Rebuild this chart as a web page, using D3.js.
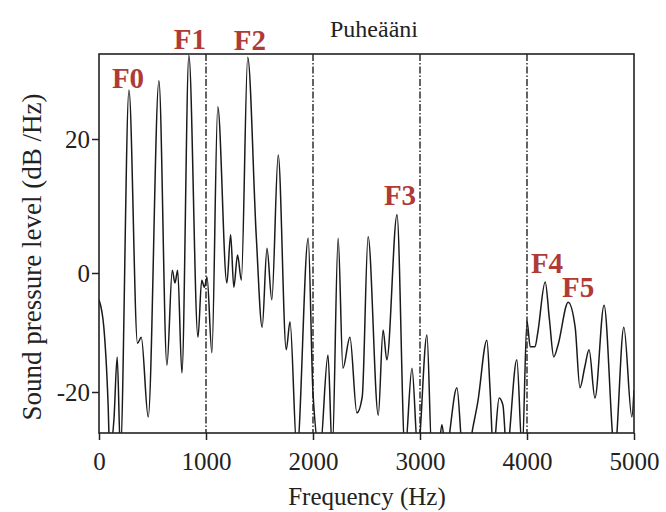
<!DOCTYPE html>
<html lang="fi">
<head>
    <meta charset="UTF-8">
    <title>Puheääni</title>
    <script src="https://d3js.org/d3.v7.min.js"></script>
    <style>
        body { margin: 0; background: #fff; }
        text { font-family: "Liberation Serif", "DejaVu Serif", serif; }
        .tick text { font-size: 25px; fill: #222; }
        .tick line { stroke: #222; stroke-width: 1.5px; }
        .formant { fill: #b03a36; font-weight: bold; font-size: 29px; }
    </style>
</head>
<body>
<script>
// spectrum: frequency (Hz) and level (dB/Hz)
const freqs = [0, 45, 85, 100, 140, 170, 200, 280, 360, 395, 460, 560, 635, 685, 710, 735, 775,
    840, 925, 960, 985, 1010, 1055, 1110, 1195, 1230, 1260, 1295, 1330, 1390, 1470, 1525, 1570,
    1615, 1675, 1750, 1785, 1850, 1955, 2000, 2065, 2140, 2180, 2235, 2280, 2345, 2410, 2460,
    2515, 2610, 2655, 2690, 2785, 2860, 2925, 2980, 3065, 3110, 3170, 3205, 3240, 3345, 3400,
    3450, 3495, 3540, 3625, 3655, 3685, 3740, 3775, 3810, 3905, 3955, 4000, 4030, 4075, 4100,
    4170, 4210, 4250, 4290, 4385, 4450, 4495, 4540, 4580, 4635, 4720, 4820, 4905, 4980, 5000];
const levels = [-4.5, -9.1, -22, -30, -24.5, -14.1, -30, 27.3, -11.8, -10.8, -24.2, 28.7, -15.5, 0.4, -1.7, 0.4, -16.8,
    32.5, -10.8, -1.2, -2.4, -0.7, -13.4, 24.8, -1.7, 5.7, -2.4, 2.7, -1.2, 32.2, 5.4, -9.1, 3.7,
    -4.5, 17.6, -12.9, -8.2, -30, 5.2, -20.2, -30, -13.8, -30, 5.2, -16, -10.8, -23.5, -20.8,
    5.4, -23.9, -9.6, -14.6, 8.7, -30, -16, -30, -10.4, -30, -30, -25.5, -30, -19.3, -30,
    -30, -25.9, -21.7, -11.3, -19.7, -30, -21, -22.2, -30, -14.6, -30, -8.1, -12.4, -12.4, -10.1,
    -1.5, -7.9, -14.1, -12.1, -4.9, -9.1, -19.3, -15.8, -12.9, -21, -5.4, -30, -9.1, -24.2, -19.7];

const xTicks = [0, 1000, 2000, 3000, 4000, 5000];
const yTicks = [-20, 0, 20];
const guides = [1000, 2000, 3000, 4000];

const formantNames = ["F0", "F1", "F2", "F3", "F4", "F5"];
const formantFreqs = [271, 850, 1411, 2813, 4187, 4477];
const formantLevels = [27.6, 33.4, 33.3, 10.1, 0, -4.0];

const width = 666, height = 512;
const m = { left: 99, right: 634, top: 54, bottom: 433 };

const svg = d3.select("body").append("svg")
    .attr("width", width)
    .attr("height", height);

const x = d3.scaleLinear().domain([0, 5000]).range([m.left, m.right]);
const y = d3.scaleLinear().domain([-20, 0, 20]).range([392, 273, 139]);

svg.append("clipPath").attr("id", "plot")
    .append("rect")
    .attr("x", m.left).attr("y", m.top)
    .attr("width", m.right - m.left).attr("height", m.bottom - m.top);

// dash-dot guide lines
svg.append("g")
    .selectAll("line")
    .data(guides)
    .enter().append("line")
    .attr("x1", d => x(d)).attr("x2", d => x(d))
    .attr("y1", m.top).attr("y2", m.bottom)
    .attr("stroke", "#111")
    .attr("stroke-width", 1.3)
    .attr("stroke-dasharray", "7,2,1.5,2");

const points = freqs.map((f, i) => [f, levels[i]]);
const line = d3.line()
    .x(d => x(d[0]))
    .y(d => y(d[1]))
    .curve(d3.curveMonotoneX);

svg.append("path")
    .datum(points)
    .attr("clip-path", "url(#plot)")
    .attr("d", line)
    .attr("fill", "none")
    .attr("stroke", "#1a1a1a")
    .attr("stroke-width", 1.5);

// frame
svg.append("rect")
    .attr("x", m.left).attr("y", m.top)
    .attr("width", m.right - m.left).attr("height", m.bottom - m.top)
    .attr("fill", "none")
    .attr("stroke", "#222")
    .attr("stroke-width", 1.6);

const xAxis = svg.append("g")
    .attr("transform", `translate(0,${m.bottom})`)
    .call(d3.axisBottom(x).tickValues(xTicks).tickSize(7).tickPadding(12).tickFormat(d => String(d)));
xAxis.select(".domain").remove();

const yAxis = svg.append("g")
    .attr("transform", `translate(${m.left},0)`)
    .call(d3.axisLeft(y).tickValues(yTicks).tickSize(7).tickPadding(2).tickFormat(d => String(d)));
yAxis.select(".domain").remove();

svg.append("text")
    .attr("x", 374).attr("y", 37)
    .attr("text-anchor", "middle")
    .attr("font-size", 24)
    .attr("fill", "#222")
    .text("Puheääni");

svg.append("text")
    .attr("x", 367).attr("y", 505)
    .attr("text-anchor", "middle")
    .attr("font-size", 25)
    .attr("fill", "#222")
    .text("Frequency (Hz)");

svg.append("text")
    .attr("transform", "translate(41,257) rotate(-90)")
    .attr("text-anchor", "middle")
    .attr("font-size", 27)
    .attr("fill", "#222")
    .text("Sound pressure level (dB /Hz)");

svg.append("g")
    .selectAll("text")
    .data(formantNames)
    .enter().append("text")
    .attr("class", "formant")
    .attr("x", (d, i) => x(formantFreqs[i]))
    .attr("y", (d, i) => y(formantLevels[i]))
    .attr("text-anchor", "middle")
    .text(d => d);
</script>
</body>
</html>
